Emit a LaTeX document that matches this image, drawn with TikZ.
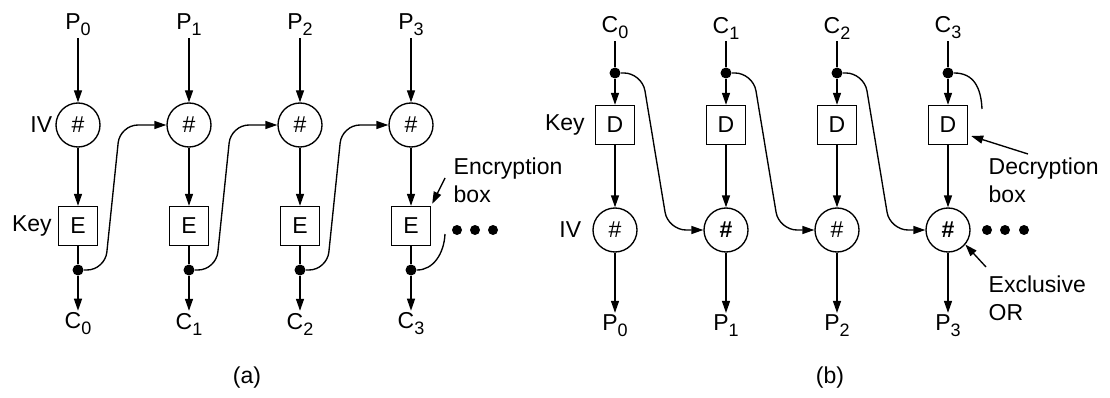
\documentclass[tikz,border=0pt]{standalone}
\usepackage{fontspec}
\setmainfont{Liberation Sans}
\usetikzlibrary{arrows.meta}
\newcommand{\sbs}[1]{\raisebox{-6pt}{\fontsize{18}{18}\selectfont #1}}
\begin{document}
\begin{tikzpicture}[x=1pt,y=-1pt, line width=1.35pt,
  every node/.style={font=\fontsize{23}{26}\selectfont, inner sep=1.5pt},
  xorn/.style={circle,draw,minimum size=44pt,inner sep=0pt},
  boxn/.style={rectangle,draw,minimum size=39pt,inner sep=0pt},
  dotn/.style={circle,fill,minimum size=11pt,inner sep=0pt},
  elln/.style={circle,fill,minimum size=10pt,inner sep=0pt},
  arr/.style={-{Triangle[length=12pt,width=8pt]}},
  fb/.style={rounded corners=18pt},
  lbl/.style={anchor=base west,inner sep=0pt}]
\useasboundingbox (0,0) rectangle (1110,398);
% ---------- (a) CBC encryption ----------
\foreach \i in {0,...,3}{
  \pgfmathsetmacro\x{78+111*\i}
  \node (pa\i) at (\x,25) {P\sbs{\i}};
  \node[xorn] (xa\i) at (\x,125) {\#};
  \node[boxn] (ea\i) at (\x,226) {E};
  \node[dotn] (da\i) at (\x,270) {};
  \node (ca\i) at (\x,324) {C\sbs{\i}};
  \draw[arr] (pa\i) -- (xa\i);
  \draw[arr] (xa\i) -- (ea\i);
  \draw (ea\i) -- (da\i);
  \draw[arr] (da\i) -- (ca\i);
}
\foreach \i/\j in {0/1,1/2,2/3}{
  \draw[arr,fb] (da\i) -- ++(27,0) -- ++(15,-145) -- (xa\j);
}
\coordinate (aend) at (445,234);
\draw (da3) .. controls (433,270) and (444,254) .. (aend);
\node[anchor=east] (iva) at ([xshift=-1pt]xa0.west) {IV};
\node[anchor=east] (keya) at ([xshift=-4pt]ea0.west) {Key};
\node[elln] (ela1) at (457,230) {};
\node[elln] (ela2) at (475,230) {};
\node[elln] (ela3) at (493,230) {};
\node[lbl] (enc1) at (453,175) {Encryption};
\node[lbl] (enc2) at (453,203) {box};
\coordinate (encp) at (445,178);
\draw[arr] (encp) -- ([shift={(1,-2)}]ea3.north east);
\node (la) at (247,378) {(a)};
% ---------- (b) CBC decryption ----------
\foreach \i in {0,...,3}{
  \pgfmathsetmacro\x{615+111*\i}
  \node (cb\i) at (\x,28) {C\sbs{\i}};
  \node[dotn] (db\i) at (\x,73) {};
  \node[boxn] (dd\i) at (\x,125) {D};
  \node (pb\i) at (\x,326) {P\sbs{\i}};
}
\node[xorn] (xb0) at (615,230) {\#};
\node[xorn] (xb1) at (726,230) {\bfseries\#};
\node[xorn] (xb2) at (837,230) {\#};
\node[xorn] (xb3) at (948,230) {\bfseries\#};
\foreach \i in {0,...,3}{
  \draw (cb\i) -- (db\i);
  \draw[arr] (db\i) -- (dd\i);
  \draw[arr] (dd\i) -- (xb\i);
  \draw[arr] (xb\i) -- (pb\i);
}
\foreach \i/\j in {0/1,1/2,2/3}{
  \draw[arr,fb] (db\i) -- ++(27,0) -- ++(26,157) -- (xb\j);
}
\coordinate (bend) at (982,109);
\draw (db3) .. controls (974,73) and (981,88) .. (bend);
\node[anchor=east] (keyb) at ([xshift=-8pt]dd0.west) {Key};
\node[anchor=east] (ivb) at ([xshift=-9pt]xb0.west) {IV};
\node[elln] (elb1) at (987,230) {};
\node[elln] (elb2) at (1005,230) {};
\node[elln] (elb3) at (1024,230) {};
\node[lbl] (dec1) at (988,175) {Decryption};
\node[lbl] (dec2) at (988,203) {box};
\coordinate (decp) at (1028,154);
\draw[arr] (decp) -- ([shift={(3,11)}]dd3.east);
\node[lbl] (exo1) at (988,292) {Exclusive};
\node[lbl] (exo2) at (988,320) {OR};
\coordinate (exop) at (986,267);
\draw[arr] (exop) -- (xb3.-40);
\node (lb) at (830,378) {(b)};
\end{tikzpicture}
\end{document}
